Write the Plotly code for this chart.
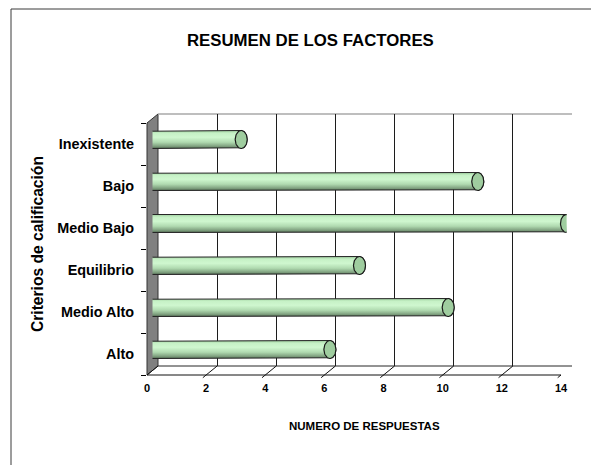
import numpy as np
import plotly.graph_objects as go

# ---- data ----
categories = ["Alto", "Medio Alto", "Equilibrio", "Medio Bajo", "Bajo", "Inexistente"]
values = [6, 10, 7, 14, 11, 3]
x_ticks = [0, 2, 4, 6, 8, 10, 12, 14]
x_max = 14

title_text = "RESUMEN DE LOS FACTORES"
x_title = "NUMERO DE RESPUESTAS"
y_title = "Criterios de calificación"

# ---- page geometry (pixels) ----
W, H = 591, 465
FL, FR, FT, FB = 147, 561, 123, 375      # front face of the 3D box
DX, DY = 11, 9                           # depth offset of the back wall
FONT = "Arial, Liberation Sans, sans-serif"


def px(x):
    return x / W


def py(y):
    return 1 - y / H


def dom(shift_x, shift_y):
    return ([px(FL + shift_x), px(FR + shift_x)],
            [py(FB - shift_y), py(FT - shift_y)])


front_x, front_y = dom(0, 0)
back_x, back_y = dom(DX, DY)
mid_x, mid_y = dom(DX / 2, DY / 2)

n = len(categories)
y_range = [-0.5, n - 0.5]
x_range = [0, x_max]

# cylinder radius expressed in axis units
ux = x_max / (FR - FL)
uy = n / (FB - FT)
rx = 6 * ux
hy = 9 * uy

fig = go.Figure()

# placeholders so that the front and back axes are drawn
fig.add_trace(go.Scatter(x=[None], y=[None], xaxis="x", yaxis="y",
                         showlegend=False, hoverinfo="skip"))
fig.add_trace(go.Scatter(x=[None], y=[None], xaxis="x2", yaxis="y2",
                         showlegend=False, hoverinfo="skip"))

body_scale = [
    [0.0, "#536b53"],
    [0.12, "#7e9f7e"],
    [0.35, "#b0dab0"],
    [0.62, "#cff7cf"],
    [0.85, "#c6f1c6"],
    [1.0, "#9fcf9f"],
]

t_right = np.linspace(-np.pi / 2, np.pi / 2, 40)
t_left = np.linspace(np.pi / 2, 3 * np.pi / 2, 40)
t_full = np.linspace(0, 2 * np.pi, 80)

for i, (cat, v) in enumerate(zip(categories, values)):
    # cylinder body with rounded ends
    xs = np.concatenate([[0, v], v + rx * np.cos(t_right), [0], rx * np.cos(t_left)])
    ys = np.concatenate([[i - hy, i - hy], i + hy * np.sin(t_right), [i + hy],
                         i + hy * np.sin(t_left)])
    fig.add_trace(go.Scatter(
        x=xs, y=ys, xaxis="x3", yaxis="y3", mode="lines",
        fill="toself",
        fillgradient=dict(type="vertical", colorscale=body_scale),
        line=dict(color="#262626", width=1),
        showlegend=False, name=cat, hoverinfo="skip",
    ))
    # end cap
    fig.add_trace(go.Scatter(
        x=v + rx * np.cos(t_full), y=i + hy * np.sin(t_full),
        xaxis="x3", yaxis="y3", mode="lines", fill="toself",
        fillcolor="#9fcd9f", line=dict(color="#1a1a1a", width=1.2),
        showlegend=False, name=cat, text=f"{cat}: {v}", hoverinfo="text",
    ))

shapes = []
# outer chart frame
shapes.append(dict(type="rect", xref="paper", yref="paper",
                   x0=px(11), y0=-0.02, x1=1.02, y1=py(9),
                   line=dict(color="#3a3a3a", width=1), layer="below"))
# dark side wall
wall = (f"M {px(FL)},{py(FB)} L {px(FL)},{py(FT)} "
        f"L {px(FL + DX)},{py(FT - DY)} L {px(FL + DX)},{py(FB - DY)} Z")
shapes.append(dict(type="path", xref="paper", yref="paper", path=wall,
                   fillcolor="#808080", line=dict(color="#333333", width=1),
                   layer="below"))
# back wall top edge
shapes.append(dict(type="line", xref="paper", yref="paper",
                   x0=px(FL + DX), x1=px(FR + DX), y0=py(FT - DY), y1=py(FT - DY),
                   line=dict(color="#a8a8a8", width=1.5), layer="below"))
# floor: back edge and front edge
shapes.append(dict(type="line", xref="paper", yref="paper",
                   x0=px(FL + DX), x1=px(FR + DX), y0=py(FB - DY), y1=py(FB - DY),
                   line=dict(color="#262626", width=1), layer="below"))
shapes.append(dict(type="line", xref="paper", yref="paper",
                   x0=px(FL), x1=px(FR), y0=py(FB), y1=py(FB),
                   line=dict(color="#111111", width=1), layer="below"))
# floor depth lines at each tick (extended slightly as tick marks)
ext = 0.3
for k in x_ticks:
    shapes.append(dict(type="line", xref="x", yref="paper",
                       x0=k - ext * DX * ux, y0=py(FB + ext * DY),
                       x1=k + DX * ux, y1=py(FB - DY),
                       line=dict(color="#111111", width=1), layer="below"))

annotations = [
    dict(text=f"<b>{title_text}</b>", xref="paper", yref="paper",
         x=px(311), y=py(40), xanchor="center", yanchor="middle",
         showarrow=False,
         font=dict(family=FONT, size=16.8, color="#000000")),
    dict(text=f"<b>{x_title}</b>", xref="paper", yref="paper",
         x=px(364), y=py(426), xanchor="center", yanchor="middle",
         showarrow=False,
         font=dict(family=FONT, size=11.5, color="#000000")),
    dict(text=f"<b>{y_title}</b>", xref="paper", yref="paper",
         x=px(37), y=py(244), xanchor="center", yanchor="middle",
         showarrow=False, textangle=-90,
         font=dict(family=FONT, size=15.6, color="#000000")),
]

hidden = dict(showgrid=False, zeroline=False, showline=False,
              showticklabels=False, ticks="", fixedrange=True)

fig.update_layout(
    width=W, height=H,
    autosize=False,
    margin=dict(l=0, r=0, t=0, b=0, pad=0, autoexpand=False),
    paper_bgcolor="white",
    plot_bgcolor="rgba(0,0,0,0)",
    showlegend=False,
    shapes=shapes,
    annotations=annotations,
    xaxis=dict(domain=front_x, range=x_range, anchor="y",
               tickmode="array", tickvals=x_ticks,
               ticktext=[f"<b>{k}</b>" for k in x_ticks], ticks="",
               showgrid=False, zeroline=False, showline=False,
               tickfont=dict(family=FONT, size=11, color="#000000"),
               ticklabelstandoff=5, fixedrange=True, automargin=False),
    yaxis=dict(domain=front_y, range=y_range, anchor="x",
               tickmode="array", tickvals=list(range(n)),
               ticktext=[f"<b>{c}</b>" for c in categories],
               ticks="", showgrid=False, zeroline=False, showline=False,
               minor=dict(tickmode="array",
                          tickvals=[j - 0.5 for j in range(n + 1)],
                          ticks="outside", ticklen=5, tickcolor="#000000",
                          tickwidth=1, showgrid=False),
               tickfont=dict(family=FONT, size=14.4, color="#000000"),
               ticklabelstandoff=12, fixedrange=True, automargin=False),
    xaxis2=dict(domain=back_x, range=x_range, anchor="y2",
                tickmode="array", tickvals=x_ticks,
                showgrid=True, gridcolor="#1c1c1c", gridwidth=1,
                zeroline=False, showline=False, showticklabels=False,
                ticks="", fixedrange=True),
    yaxis2=dict(domain=back_y, range=y_range, anchor="x2", **hidden),
    xaxis3=dict(domain=mid_x, range=x_range, anchor="y3", **hidden),
    yaxis3=dict(domain=mid_y, range=y_range, anchor="x3", **hidden),
)

fig.write_html("out.html", config={"displayModeBar": False})
